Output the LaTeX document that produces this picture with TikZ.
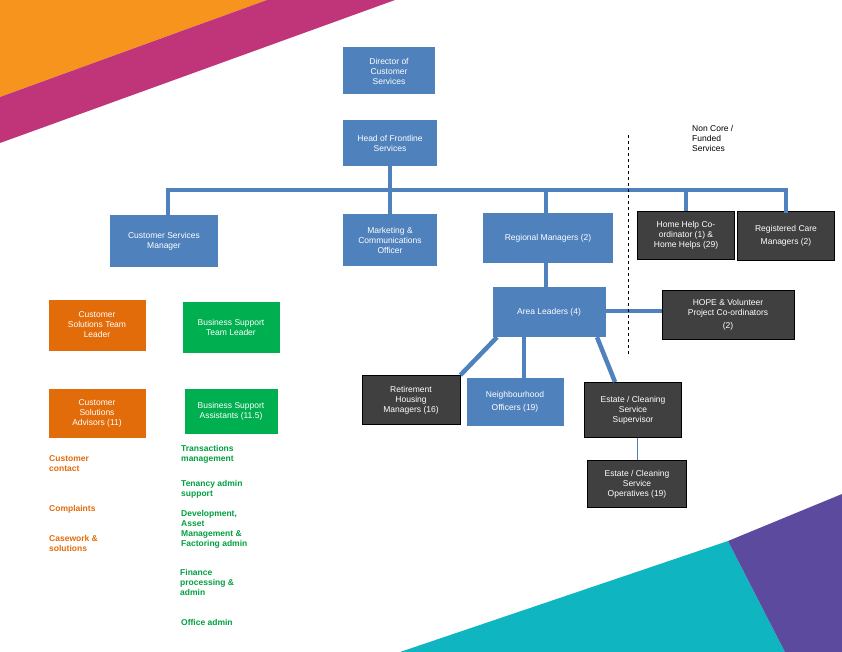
\documentclass[tikz,border=0pt]{standalone}
\usepackage{fontspec}
\setmainfont{Liberation Sans}
\begin{document}
\begin{tikzpicture}[x=1pt,y=-1pt,
 box/.style={draw=none,minimum width=#1,align=center,inner sep=1pt,text=white,font=\fontsize{8.5}{10}\selectfont},
 bl/.style={fill=cblue},
 dk/.style={fill=cdark,draw=black,line width=0.8pt},
 og/.style={fill=corange},
 gr/.style={fill=cgreen},
 con/.style={draw=cblue,line width=4.5pt},
 ol/.style={text=corange,font=\bfseries\fontsize{8.5}{10}\selectfont,align=left,anchor=north west,inner sep=0pt},
 gl/.style={text=cgreentxt,font=\bfseries\fontsize{8.5}{10}\selectfont,align=left,anchor=north west,inner sep=0pt}]
\definecolor{cblue}{HTML}{4F81BD}
\definecolor{cdark}{HTML}{404040}
\definecolor{corange}{HTML}{E36C0A}
\definecolor{cgreen}{HTML}{00B050}
\definecolor{cgreentxt}{HTML}{00A040}
\definecolor{bgor}{HTML}{F7941D}
\definecolor{bgmag}{HTML}{C0357A}
\definecolor{bgteal}{HTML}{0FB5C0}
\definecolor{bgpur}{HTML}{5B4A9E}
\useasboundingbox (0,0) rectangle (842,652);
\fill[white] (0,0) rectangle (842,652);
\fill[bgor] (0,0) -- (267,0) -- (0,97) -- cycle;
\fill[bgmag] (0,97) -- (267,0) -- (395,0) -- (0,143) -- cycle;
\fill[bgteal] (400,652) -- (728,541) -- (785,652) -- cycle;
\fill[bgpur] (728,541) -- (842,494) -- (842,652) -- (785,652) -- cycle;
% nodes
\node[box=92pt,bl,minimum height=47pt] (dir) at (389,71) {Director of\\Customer\\Services};
\node[box=94pt,bl,minimum height=46pt] (head) at (390,143) {Head of Frontline\\Services};
\node[box=108pt,bl,minimum height=52pt] (csm) at (164,241) {Customer Services\\Manager};
\node[box=94pt,bl,minimum height=51pt] (mkt) at (390,240) {Marketing \&\\Communications\\Officer};
\node[box=130pt,bl,minimum height=50pt] (reg) at (548,238) {Regional Managers (2)};
\node[box=97pt,dk,minimum height=48pt] (hh) at (686,235) {Home Help Co-\\ordinator (1) \&\\Home Helps (29)};
\node[box=97pt,dk,minimum height=49pt] (rc) at (786,236) {Registered Care\\[3pt]Managers (2)};
\node[box=113pt,bl,minimum height=50pt] (area) at (549,312) {Area Leaders (4)};
\node[box=132pt,dk,minimum height=49pt] (hope) at (728,315) {HOPE \& Volunteer\\Project Co-ordinators\\[3pt](2)};
\node[box=98pt,dk,minimum height=49pt] (ret) at (411,400) {Retirement\\Housing\\Managers (16)};
\node[box=97pt,bl,minimum height=48pt] (nbh) at (515,402) {Neighbourhood\\[3pt]Officers (19)};
\node[box=97pt,dk,minimum height=55pt] (esup) at (633,410) {Estate / Cleaning\\Service\\Supervisor};
\node[box=99pt,dk,minimum height=47pt] (eop) at (637,484) {Estate / Cleaning\\Service\\Operatives (19)};
\node[box=97pt,og,minimum height=51pt] (cstl) at (97,325) {Customer\\Solutions Team\\Leader};
\node[box=97pt,gr,minimum height=51pt] (bstl) at (231,327) {Business Support\\Team Leader};
\node[box=97pt,og,minimum height=49pt] (csa) at (97,413) {Customer\\Solutions\\Advisors (11)};
\node[box=93pt,gr,minimum height=45pt] (bsa) at (231,411) {Business Support\\Assistants (11.5)};
\node[align=left,anchor=north west,inner sep=0pt,font=\fontsize{8.5}{10}\selectfont] (nc) at (692,125) {Non Core /\\Funded\\Services};
% lists
\node[ol] (l1) at (49,455) {Customer\\contact};
\node[ol] (l2) at (49,505) {Complaints};
\node[ol] (l3) at (49,535) {Casework \&\\solutions};
\node[gl] (g1) at (181,445) {Transactions\\management};
\node[gl] (g2) at (181,480) {Tenancy admin\\support};
\node[gl] (g3) at (181,510) {Development,\\Asset\\Management \&\\Factoring admin};
\node[gl] (g4) at (180,569) {Finance\\processing \&\\admin};
\node[gl] (g5) at (181,619) {Office admin};
% connectors
\coordinate (bar) at (390,190);
\draw[con] (head.south) -- (bar);
\draw[con,line cap=rect] (csm.north -| 168,0) |- (786,190) -- (rc.north -| 786,0);
\draw[con] (bar) -- (mkt.north);
\draw[con] (546,190) -- (reg.north -| 546,0);
\draw[con] (686,190) -- (hh.north -| 686,0);
\draw[con] (reg.south -| 546,0) -- (area.north -| 546,0);
\draw[con] (area.east |- 0,311) -- (hope.west |- 0,311);
\draw[con] (area.south -| 497,0) -- (ret.north east);
\draw[con] (area.south -| 524,0) -- (nbh.north -| 524,0);
\draw[con] (area.south -| 597,0) -- (615,382);
\draw[cblue,line width=0.6pt] (esup.south -| 637,0) -- (eop.north -| 637,0);
\coordinate (d1) at (628,135); \coordinate (d2) at (628,355);
\draw[dashed,line width=0.6pt] (d1) -- (d2);
\end{tikzpicture}
\end{document}
